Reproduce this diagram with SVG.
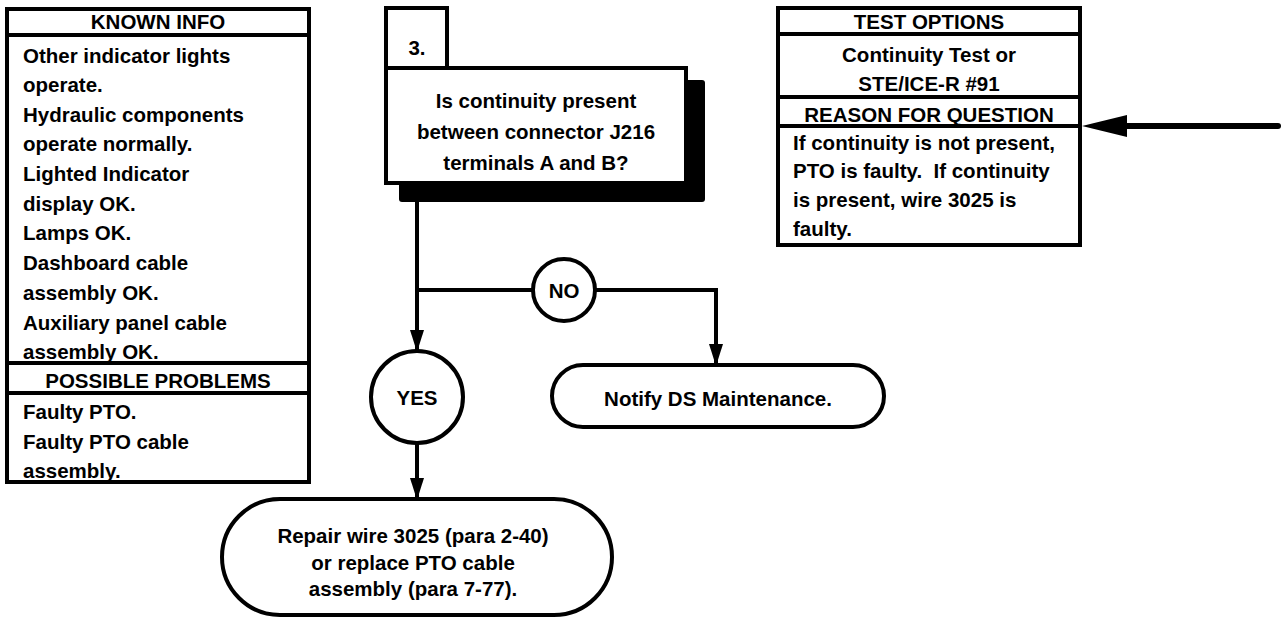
<svg xmlns="http://www.w3.org/2000/svg" width="1284" height="618" viewBox="0 0 1284 618">
<style>
text{font-family:"Liberation Sans",Arial,sans-serif;font-weight:bold;font-size:20.5px;fill:#000}
.c{text-anchor:middle}
.box{fill:#fff;stroke:#000;stroke-width:4}
.ln{fill:none;stroke:#000;stroke-width:4}
</style>
<defs>
<marker id="ah" markerUnits="userSpaceOnUse" markerWidth="22" markerHeight="14" refX="21" refY="7" orient="auto" viewBox="0 0 22 14">
<polygon points="0,0 22,7 0,14" fill="#000"/>
</marker>
</defs>
<rect width="1284" height="618" fill="#fff"/>

<g id="known-info">
<rect class="box" x="7" y="9" width="302" height="473"/>
<line class="ln" x1="7" y1="35" x2="309" y2="35"/>
<line class="ln" x1="7" y1="363" x2="309" y2="363"/>
<line class="ln" x1="7" y1="393" x2="309" y2="393"/>
<text class="c" x="158" y="29">KNOWN INFO</text>
<text x="23" y="62.5">Other indicator lights</text>
<text x="23" y="92">operate.</text>
<text x="23" y="121.5">Hydraulic components</text>
<text x="23" y="151">operate normally.</text>
<text x="23" y="181">Lighted Indicator</text>
<text x="23" y="210.5">display OK.</text>
<text x="23" y="240">Lamps OK.</text>
<text x="23" y="270">Dashboard cable</text>
<text x="23" y="300">assembly OK.</text>
<text x="23" y="329.5">Auxiliary panel cable</text>
<text x="23" y="359">assembly OK.</text>
<text class="c" x="158" y="388">POSSIBLE PROBLEMS</text>
<text x="23" y="419">Faulty PTO.</text>
<text x="23" y="448.5">Faulty PTO cable</text>
<text x="23" y="478">assembly.</text>
</g>

<g id="step-3">
<rect x="399" y="80" width="306" height="122" rx="3" fill="#000"/>
<rect class="box" x="386" y="8" width="61" height="60"/>
<rect class="box" x="386" y="68" width="300" height="115"/>
<text class="c" x="417" y="55">3.</text>
<text class="c" x="536" y="107.5">Is continuity present</text>
<text class="c" x="536" y="138.5">between connector J216</text>
<text class="c" x="536" y="169.5">terminals A and B?</text>
</g>

<g id="test-options">
<rect class="box" x="778" y="8" width="302" height="237"/>
<line class="ln" x1="778" y1="34" x2="1080" y2="34"/>
<line class="ln" x1="778" y1="97" x2="1080" y2="97"/>
<line class="ln" x1="778" y1="126" x2="1080" y2="126"/>
<text class="c" x="929" y="29">TEST OPTIONS</text>
<text class="c" x="929" y="62">Continuity Test or</text>
<text class="c" x="929" y="90.5">STE/ICE-R #91</text>
<text class="c" x="929" y="122">REASON FOR QUESTION</text>
<text x="793" y="149.5">If continuity is not present,</text>
<text x="793" y="178" xml:space="preserve">PTO is faulty.  If continuity</text>
<text x="793" y="207">is present, wire 3025 is</text>
<text x="793" y="236">faulty.</text>
</g>

<g id="no">
<circle class="box" cx="564" cy="290" r="31"/>
<text class="c" x="564" y="297.5">NO</text>
</g>

<g id="yes">
<circle class="box" cx="417" cy="397" r="46"/>
<text class="c" x="417" y="404.5">YES</text>
</g>

<g id="notify">
<rect class="box" x="552" y="365" width="332" height="62" rx="31"/>
<text class="c" x="718" y="405.5">Notify DS Maintenance.</text>
</g>

<g id="repair">
<rect class="box" x="222" y="499" width="390" height="116" rx="58"/>
<text class="c" x="413" y="542.5">Repair wire 3025 (para 2-40)</text>
<text class="c" x="413" y="569.5">or replace PTO cable</text>
<text class="c" x="413" y="596">assembly (para 7-77).</text>
</g>

<g id="connectors">
<line class="ln" x1="417" y1="202" x2="417" y2="351" marker-end="url(#ah)"/>
<line class="ln" x1="417" y1="290" x2="533" y2="290"/>
<polyline class="ln" points="595,290 716,290 716,365" marker-end="url(#ah)"/>
<line class="ln" x1="417" y1="443" x2="417" y2="499" marker-end="url(#ah)"/>
<line x1="1278" y1="126" x2="1110" y2="126" stroke="#000" stroke-width="6" stroke-linecap="round"/>
<polygon points="1082,126 1127,115 1127,137" fill="#000"/>
</g>
</svg>
